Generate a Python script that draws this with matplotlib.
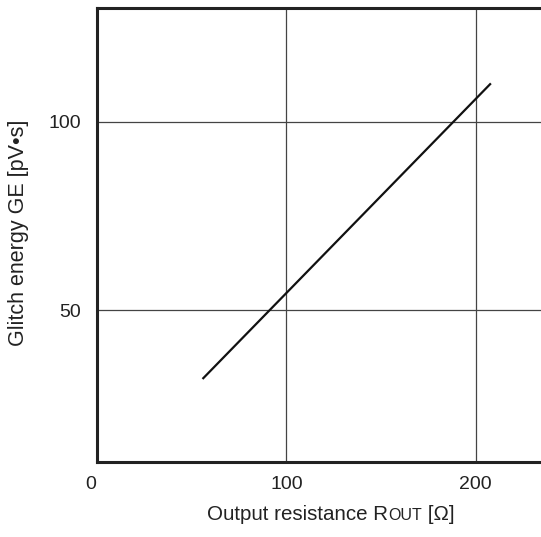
import matplotlib
matplotlib.use("Agg")
import matplotlib.pyplot as plt
import matplotlib.transforms as mtransforms
from matplotlib.offsetbox import TextArea, HPacker, AnchoredOffsetbox

plt.rcParams["font.family"] = ["Liberation Sans", "DejaVu Sans"]

# data
r_out = [55.6, 208.1]
glitch = [31.7, 110.2]
x_ticks = [0, 100, 200]
y_ticks = [50, 100]

fig = plt.figure(figsize=(5.41, 5.37), dpi=100)
ax = fig.add_axes([0.180, 0.140, 0.820, 0.845])

ax.plot(r_out, glitch, color="#111111", lw=1.6, solid_capstyle="butt")

ax.set_xlim(0, 234.6)
ax.set_ylim(9.7, 130.2)
ax.set_xticks(x_ticks)
ax.set_yticks(y_ticks)
ax.tick_params(length=0, labelsize=14, colors="#222222")
ax.tick_params(axis="x", pad=10)
ax.tick_params(axis="y", pad=12)
ax.grid(True, color="#444444", lw=0.9)
ax.set_axisbelow(True)

# the "0" sits a little left of the corner in the original
zero = ax.get_xticklabels()[0]
zero.set_transform(zero.get_transform()
                   + mtransforms.ScaledTranslation(-7 / 100, 0, fig.dpi_scale_trans))

for side in ("left", "bottom", "top"):
    ax.spines[side].set_linewidth(2.2)
    ax.spines[side].set_color("#222222")
ax.spines["right"].set_visible(False)

fig.text(19 / 541, 1 - 233 / 537, "Glitch energy GE [pV\u2022s]", rotation=90,
         ha="center", va="center", fontsize=15.5, color="#222222")

# x label with small-caps "OUT"
big = dict(fontsize=14.8, color="#222222")
small = dict(fontsize=11.5, color="#222222")
parts = [TextArea("Output resistance R", textprops=big),
         TextArea("OUT", textprops=small),
         TextArea(" [\u03a9]", textprops=big)]
box = HPacker(children=parts, align="baseline", pad=0, sep=0)
anchored = AnchoredOffsetbox(loc="center", child=box, frameon=False,
                             bbox_to_anchor=(331 / 541, 1 - 515 / 537),
                             bbox_transform=fig.transFigure, pad=0, borderpad=0)
fig.add_artist(anchored)

fig.savefig("out.png", dpi=100)
